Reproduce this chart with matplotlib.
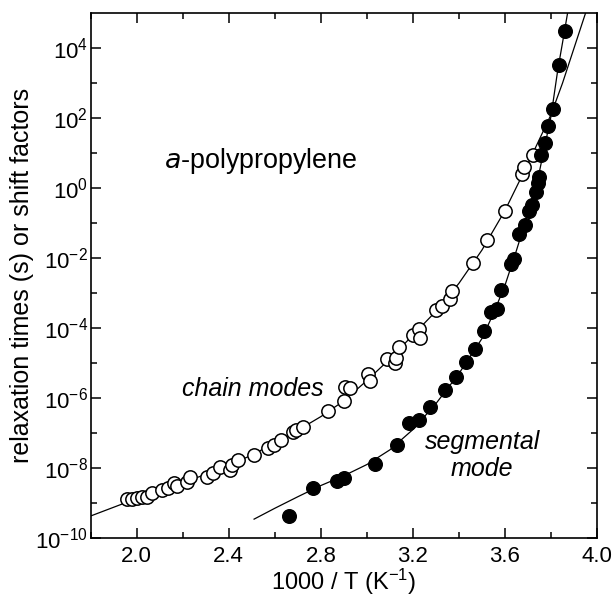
import numpy as np
import matplotlib.pyplot as plt
import matplotlib.ticker as ticker

plt.rcParams['font.family'] = ['Liberation Sans', 'DejaVu Sans']
plt.rcParams['mathtext.default'] = 'regular'

# chain modes (open circles): 1000/T and log10(tau)
chain_x = [1.956, 1.981, 2.002, 2.024, 2.046, 2.066, 2.109, 2.135, 2.160, 2.177,
           2.220, 2.232, 2.305, 2.330, 2.361, 2.407, 2.416, 2.441, 2.509, 2.569,
           2.595, 2.629, 2.680, 2.693, 2.722, 2.833, 2.901, 2.905, 2.927, 3.003,
           3.012, 3.089, 3.123, 3.126, 3.140, 3.199, 3.228, 3.233, 3.302, 3.327,
           3.361, 3.370, 3.463, 3.523, 3.600, 3.676, 3.685, 3.722]
chain_log = [-8.88, -8.88, -8.86, -8.82, -8.82, -8.72, -8.63, -8.58, -8.44, -8.51,
             -8.39, -8.25, -8.25, -8.15, -7.96, -8.06, -7.91, -7.77, -7.63, -7.44,
             -7.35, -7.20, -6.97, -6.92, -6.82, -6.37, -6.07, -5.67, -5.72, -5.31,
             -5.50, -4.88, -5.00, -4.85, -4.55, -4.19, -4.03, -4.27, -3.49, -3.36,
             -3.18, -2.95, -2.15, -1.49, -0.66, 0.40, 0.61, 0.94]

# segmental mode (filled circles)
seg_x = [2.663, 2.765, 2.871, 2.901, 3.037, 3.131, 3.182, 3.228, 3.273, 3.341,
         3.387, 3.429, 3.468, 3.509, 3.540, 3.566, 3.583, 3.626, 3.638, 3.661,
         3.687, 3.704, 3.716, 3.735, 3.742, 3.747, 3.756, 3.772, 3.787, 3.809,
         3.833, 3.862]
seg_log = [-9.38, -8.58, -8.36, -8.29, -7.87, -7.35, -6.71, -6.64, -6.26, -5.78,
           -5.40, -4.98, -4.60, -4.08, -3.55, -3.46, -2.92, -2.17, -2.03, -1.32,
           -1.04, -0.66, -0.47, -0.10, 0.14, 0.33, 0.94, 1.28, 1.79, 2.25,
           3.53, 4.50]

# fit curves
chain_fit_x = [1.80, 1.90, 2.00, 2.10, 2.20, 2.30, 2.40, 2.50, 2.60, 2.70, 2.80,
               2.90, 3.00, 3.10, 3.20, 3.30, 3.40, 3.50, 3.60, 3.70, 3.80, 3.85,
               3.90, 3.95]
chain_fit_log = [-9.37, -9.12, -8.87, -8.64, -8.42, -8.18, -7.92, -7.63, -7.28, -6.92,
                 -6.53, -6.08, -5.50, -4.88, -4.20, -3.52, -2.72, -1.77, -0.64, 0.70,
                 2.10, 3.00, 4.00, 5.00]
seg_fit_x = [2.51, 2.60, 2.70, 2.80, 2.90, 3.00, 3.10, 3.20, 3.30, 3.40, 3.50,
             3.55, 3.60, 3.65, 3.70, 3.75, 3.80, 3.83, 3.85, 3.872]
seg_fit_log = [-9.46, -9.15, -8.82, -8.50, -8.22, -7.90, -7.48, -6.90, -6.16, -5.30,
               -4.30, -3.58, -2.78, -1.78, -0.72, 0.48, 2.05, 3.40, 4.15, 5.00]

fig = plt.figure(figsize=(6.14, 5.98), dpi=100)
ax = fig.add_axes([0.1477, 0.1003, 0.8246, 0.8775])

ax.plot(chain_fit_x, 10.0 ** np.array(chain_fit_log), 'k-', lw=0.9)
ax.plot(seg_fit_x, 10.0 ** np.array(seg_fit_log), 'k-', lw=0.9)
ax.plot(chain_x, 10.0 ** np.array(chain_log), 'o', ms=9.6, mfc='white', mec='black', mew=1.1)
ax.plot(seg_x, 10.0 ** np.array(seg_log), 'o', ms=9.8, mfc='black', mec='black')

ax.set_yscale('log')
ax.set_xlim(1.80, 4.0)
ax.set_ylim(1e-10, 1e5)

ax.xaxis.set_major_locator(ticker.FixedLocator([2.0, 2.4, 2.8, 3.2, 3.6, 4.0]))
ax.xaxis.set_minor_locator(ticker.MultipleLocator(0.2))
ax.xaxis.set_major_formatter(ticker.FormatStrFormatter('%.1f'))
ytk = [-10, -8, -6, -4, -2, 0, 2, 4]
ax.yaxis.set_major_locator(ticker.FixedLocator([10.0 ** e for e in ytk]))
ax.yaxis.set_major_formatter(ticker.FixedFormatter([r'$10^{%d}$' % e for e in ytk]))
ax.yaxis.set_minor_locator(ticker.FixedLocator([10.0 ** e for e in range(-9, 5, 2)]))
ax.yaxis.set_minor_formatter(ticker.NullFormatter())

ax.tick_params(which='both', direction='in', top=True, right=True, width=1.1, labelsize=16)
ax.tick_params(which='major', length=7)
ax.tick_params(which='minor', length=4.5)
ax.tick_params(axis='x', which='major', pad=6)
ax.tick_params(axis='y', which='major', pad=2)
for s in ax.spines.values():
    s.set_linewidth(1.2)

ax.set_xlabel('1000 / T (K$^{-1}$)', fontsize=17, labelpad=-0.5)
ax.set_ylabel('relaxation times (s) or shift factors', fontsize=18, labelpad=1)

ax.text(2.119, 10 ** 0.77, '$\\it{a}$-polypropylene', fontsize=19.4, va='center', ha='left')
ax.text(2.197, 10 ** -5.73, 'chain modes', fontsize=18, style='italic', va='center', ha='left')
ax.text(3.501, 10 ** -7.64, 'segmental\nmode', fontsize=18, style='italic',
        va='center', ha='center', linespacing=1.15)

plt.savefig('out.png', dpi=100)
